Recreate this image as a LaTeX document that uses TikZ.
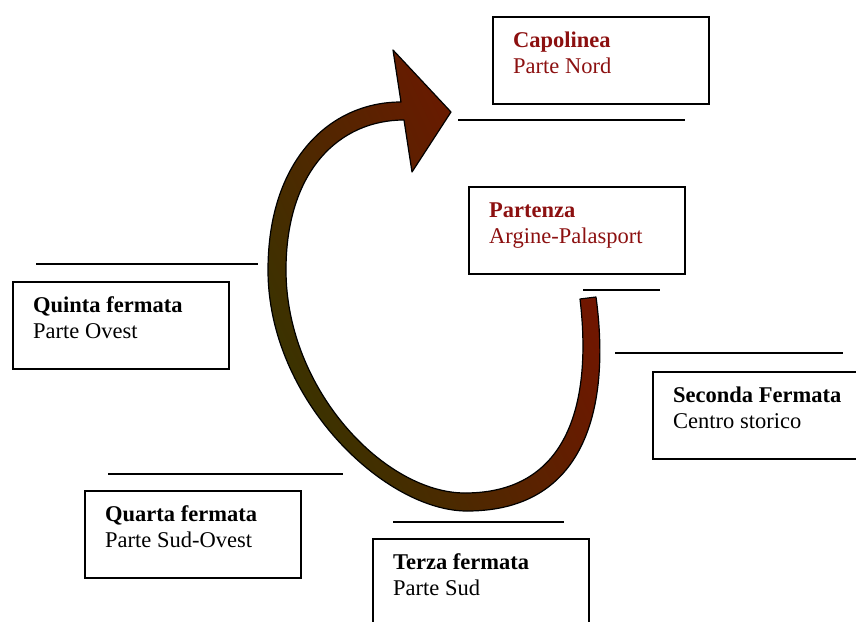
\documentclass[tikz,border=0pt]{standalone}
\usepackage{fontspec}
\setmainfont{Liberation Serif}
\usepackage{tikz}
\definecolor{stopred}{RGB}{140,16,16}
\definecolor{loopolive}{RGB}{56,52,0}
\definecolor{loopred}{RGB}{124,16,0}
\tikzstyle{stopbox} = [draw, line width=1.5pt, minimum width=216pt, minimum height=87pt, anchor=north west, inner sep=0pt]
\tikzstyle{stoptext} = [anchor=base west, inner sep=0pt, align=left, font=\fontsize{22.5}{26.5}\selectfont]
\tikzstyle{rule} = [line width=1.5pt]

\begin{document}
\begin{tikzpicture}[x=1pt, y=-1pt]
    \useasboundingbox (0,0) rectangle (856,621);
    \clip (0,0) rectangle (856,621);
    % the loop
    \shade[left color=loopolive, right color=loopred, shading angle=115, draw=black, line width=1.2pt, line join=round]
        (596,297) .. controls (610,400) and (590,511) .. (467,511)
        .. controls (385,511) and (268,400) .. (268,270)
        .. controls (268,160) and (330,102) .. (401,102)
        -- (393,50) -- (451,112) -- (412,172) -- (404,120)
        .. controls (340,120) and (286,170) .. (286,270)
        .. controls (286,390) and (385,493) .. (465,493)
        .. controls (570,493) and (592,400) .. (580,299)
        -- cycle;
    % stops
    \node[stopbox] (capolinea) at (492,16) {};
    \node[stoptext, text=stopred] (capolinea text) at ([shift={(21,57.5)}]capolinea.north west) {\textbf{Capolinea}\\Parte Nord};
    \node[stopbox] (partenza) at (468,186) {};
    \node[stoptext, text=stopred] (partenza text) at ([shift={(21,57.5)}]partenza.north west) {\textbf{Partenza}\\Argine-Palasport};
    \node[stopbox] (seconda) at (652,371) {};
    \node[stoptext] (seconda text) at ([shift={(21,57.5)}]seconda.north west) {\textbf{Seconda Fermata}\\Centro storico};
    \node[stopbox] (terza) at (372,538) {};
    \node[stoptext] (terza text) at ([shift={(21,57.5)}]terza.north west) {\textbf{Terza fermata}\\Parte Sud};
    \node[stopbox] (quarta) at (84,490) {};
    \node[stoptext] (quarta text) at ([shift={(21,57.5)}]quarta.north west) {\textbf{Quarta fermata}\\Parte Sud-Ovest};
    \node[stopbox] (quinta) at (12,281) {};
    \node[stoptext] (quinta text) at ([shift={(21,57.5)}]quinta.north west) {\textbf{Quinta fermata}\\Parte Ovest};
    % rules
    \draw[rule] (458,120) -- (685,120);
    \draw[rule] (583,290) -- (660,290);
    \draw[rule] (615,353) -- (843,353);
    \draw[rule] (393,522) -- (564,522);
    \draw[rule] (108,474) -- (343,474);
    \draw[rule] (36,264) -- (258,264);
\end{tikzpicture}
\end{document}
